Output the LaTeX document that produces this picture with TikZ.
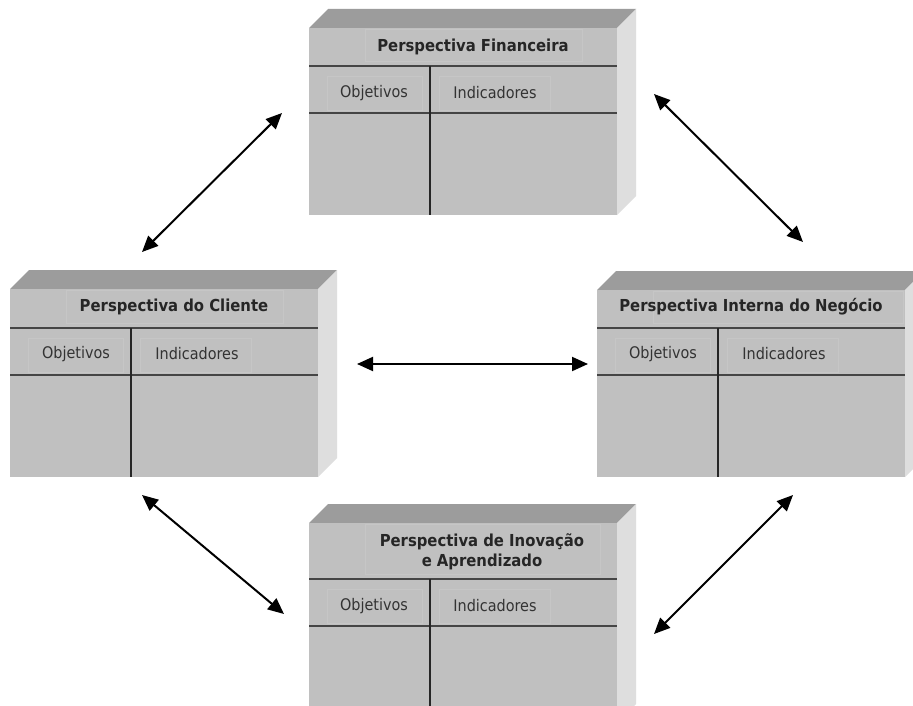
\documentclass[tikz,border=0pt]{standalone}
\usepackage{fontspec}
\setmainfont{DejaVu Sans Condensed}
\usetikzlibrary{arrows.meta}

\definecolor{frontface}{HTML}{C0C0C0}
\definecolor{topface}{HTML}{9C9C9C}
\definecolor{sideface}{HTML}{DEDEDE}
\definecolor{framecol}{HTML}{C6C6C6}
\definecolor{rulecol}{HTML}{454545}

\tikzset{
  boxtitle/.style={font=\fontsize{16.5}{19.5}\selectfont\bfseries, text=black!85, align=center, inner sep=0pt},
  collabel/.style={font=\fontsize{16}{19}\selectfont, text=black!80, inner sep=0pt},
  textframe/.style={draw=framecol, line width=0.7pt},
  hrule/.style={draw=rulecol, line width=1.8pt},
  vrule/.style={draw=black!85, line width=1.5pt},
  link/.style={draw=black, line width=2pt, {Triangle[length=16pt,width=14pt]}-{Triangle[length=16pt,width=14pt]}},
}

% 3D card: #1 left x, #2 top y, #3 height, #4 header depth, #5 header frame right offset
\newcommand\cardbox[5]{%
  \fill[topface] (#1,#2) -- ++(19,-19) -- ++(308,0) -- ++(-19,19) -- cycle;
  \fill[sideface] (#1+308,#2) -- ++(19,-19) -- ++(0,#3) -- ++(-19,19) -- cycle;
  \fill[frontface] (#1,#2) rectangle ++(308,#3);
  \draw[textframe] (#1+56,#2+1) rectangle (#1+#5,#2+#4-5);
  \draw[textframe] (#1+18,#2+#4+10) rectangle (#1+113,#2+#4+44);
  \draw[textframe] (#1+130,#2+#4+10) rectangle (#1+241,#2+#4+44);
  \draw[hrule] (#1,#2+#4) -- ++(308,0);
  \draw[hrule] (#1,#2+#4+47) -- ++(308,0);
  \draw[vrule] (#1+121,#2+#4) -- (#1+121,#2+#3);
}

\begin{document}
\begin{tikzpicture}[x=1pt,y=-1pt]
  \useasboundingbox[fill=white] (0,0) rectangle (913,706);
  \clip (0,0) rectangle (913,706);

  % financial perspective (top)
  \cardbox{309}{28}{187}{38}{273}
  \node[boxtitle] (finT) at (473,47) {Perspectiva Financeira};
  \node[collabel] (finO) at (374,93) {Objetivos};
  \node[collabel] (finI) at (495,93) {Indicadores};

  % customer perspective (left)
  \cardbox{10}{289}{188}{39}{273}
  \node[boxtitle] (cliT) at (174,307) {Perspectiva do Cliente};
  \node[collabel] (cliO) at (76,354) {Objetivos};
  \node[collabel] (cliI) at (197,354) {Indicadores};

  % internal business perspective (right)
  \cardbox{597}{290}{187}{38}{306}
  \node[boxtitle] (intT) at (751,307) {Perspectiva Interna do Negócio};
  \node[collabel] (intO) at (663,354) {Objetivos};
  \node[collabel] (intI) at (784,354) {Indicadores};

  % innovation and learning perspective (bottom)
  \cardbox{309}{523}{200}{56}{291}
  \node[boxtitle] (inoT) at (482,552) {Perspectiva de Inovação\\e Aprendizado};
  \node[collabel] (inoO) at (374,606) {Objetivos};
  \node[collabel] (inoI) at (495,606) {Indicadores};

  % connector end points
  \coordinate (aTL1) at (142,252);
  \coordinate (aTL2) at (282,113);
  \coordinate (aTR1) at (654,94);
  \coordinate (aTR2) at (803,242);
  \coordinate (aM1) at (357,364);
  \coordinate (aM2) at (588,364);
  \coordinate (aBL1) at (142,495);
  \coordinate (aBL2) at (284,614);
  \coordinate (aBR1) at (793,495);
  \coordinate (aBR2) at (654,634);

  \draw[link] (aTL1) -- (aTL2);
  \draw[link] (aTR1) -- (aTR2);
  \draw[link] (aM1) -- (aM2);
  \draw[link] (aBL1) -- (aBL2);
  \draw[link] (aBR1) -- (aBR2);
\end{tikzpicture}
\end{document}
